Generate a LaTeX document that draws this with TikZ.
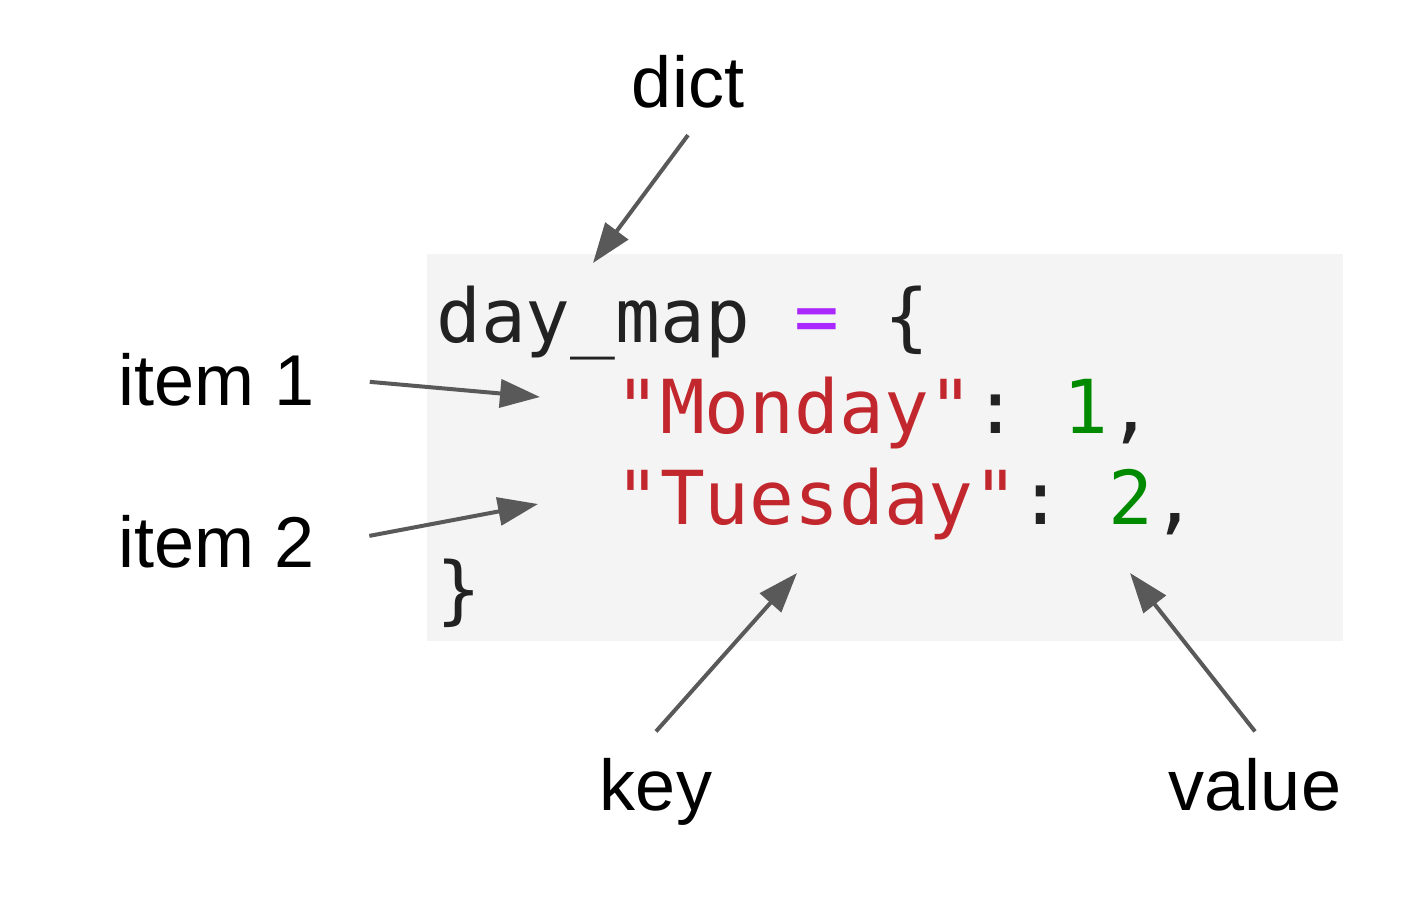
\documentclass[tikz,border=0pt]{standalone}
\usepackage{fontspec}
\setmainfont{Liberation Sans}
\setmonofont{DejaVu Sans Mono}
\usetikzlibrary{arrows.meta}
\definecolor{codebg}{HTML}{F4F4F4}
\definecolor{codeink}{HTML}{222222}
\definecolor{codestr}{HTML}{C1272D}
\definecolor{codenum}{HTML}{008A00}
\definecolor{codeop}{HTML}{AA28FF}
\definecolor{ptrgray}{HTML}{595959}
\begin{document}
\begin{tikzpicture}[x=0.5pt,y=-0.5pt,
  lbl/.style={inner sep=13pt,font=\fontsize{36}{43}\selectfont},
  code/.style={anchor=base west,inner sep=0pt,text=codeink,
    font=\ttfamily\fontsize{37.2}{44}\selectfont},
  ptr/.style={-{Triangle[length=20pt,width=14pt]},line width=2pt,draw=ptrgray}]
\useasboundingbox (0,0) rectangle (1428,920);
\fill[codebg] (427,254) rectangle (1343,641);

\node[code] (l1) at (436,342) {day\_map \textcolor{codeop}{=} \{};
\node[code] (l2) at (615,433) {\textcolor{codestr}{"Monday"}: \textcolor{codenum}{1},};
\node[code] (l3) at (615,524) {\textcolor{codestr}{"Tuesday"}: \textcolor{codenum}{2},};
\node[code] (l4) at (436,615) {\}};

\node[lbl,anchor=base] (dict) at (688,108) {dict};
\node[lbl,anchor=base west] (item1) at (92,405) {item 1};
\node[lbl,anchor=base west] (item2) at (92,567) {item 2};
\node[lbl,anchor=base] (key) at (656,810) {key};
\node[lbl,anchor=base] (value) at (1255,810) {value};

\coordinate (dictend) at (593,263);
\coordinate (item1end) at (540,397);
\coordinate (item2end) at (538,504);
\coordinate (keyend) at (797,573);
\coordinate (valueend) at (1130,573);

\draw[ptr] (dict.south) -- (dictend);
\draw[ptr,shorten <=14.5pt] (item1.east) -- (item1end);
\draw[ptr,shorten <=14.5pt] (item2.east) -- (item2end);
\draw[ptr] (key.north) -- (keyend);
\draw[ptr] (value.north) -- (valueend);
\end{tikzpicture}
\end{document}
